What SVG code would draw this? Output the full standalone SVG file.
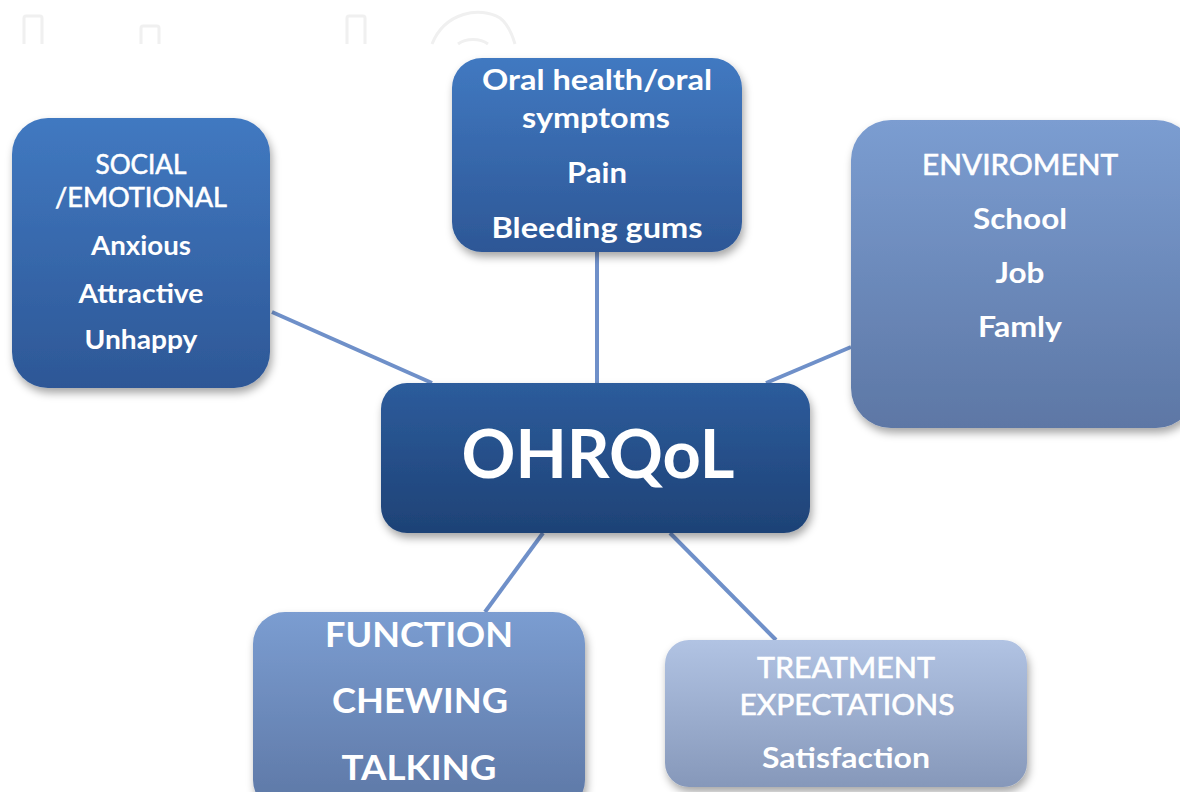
<svg xmlns="http://www.w3.org/2000/svg" width="1180" height="792" viewBox="0 0 1180 792">
<defs>
<linearGradient id="gDark" x1="0" y1="0" x2="0" y2="1"><stop offset="0" stop-color="#4179c1"/><stop offset="1" stop-color="#2d5796"/></linearGradient>
<linearGradient id="gMid" x1="0" y1="0" x2="0" y2="1"><stop offset="0" stop-color="#7b9dd1"/><stop offset="1" stop-color="#5d77a5"/></linearGradient>
<linearGradient id="gCore" x1="0" y1="0" x2="0" y2="1"><stop offset="0" stop-color="#2d5c9c"/><stop offset="1" stop-color="#1e4276"/></linearGradient>
<linearGradient id="gLight" x1="0" y1="0" x2="0" y2="1"><stop offset="0" stop-color="#b1c3e3"/><stop offset="1" stop-color="#8698ba"/></linearGradient>
<filter id="sh" x="-10%" y="-10%" width="125%" height="130%"><feDropShadow dx="2" dy="5" stdDeviation="4" flood-color="#000" flood-opacity="0.35"/></filter>
</defs>
<style>
text{font-family:Lato,"Open Sans","Liberation Sans",sans-serif;fill:#fff;text-anchor:middle}
.b{font-weight:700}
.r{font-weight:400;stroke:#fff;stroke-width:0.6}
.wm{fill:none;stroke:#f0f0f0;stroke-width:3}
.c{stroke:#6f90c9;stroke-width:4;fill:none}
</style>
<rect width="1180" height="792" fill="#fff"/>
<g id="watermark">
<path class="wm" d="M24 44V18a2 2 0 0 1 2-2h14a2 2 0 0 1 2 2v26"/>
<path class="wm" d="M141 44V28a2 2 0 0 1 2-2h14a2 2 0 0 1 2 2v16"/>
<path class="wm" d="M347 44V18a2 2 0 0 1 2-2h14a2 2 0 0 1 2 2v26"/>
<path class="wm" d="M432 44C445 12 480 6 500 18C508 24 512 34 515 44"/>
<path class="wm" d="M458 44C466 38 480 38 488 44"/>
</g>
<g id="connectors">
<line class="c" x1="272" y1="312" x2="432" y2="383"/>
<line class="c" x1="597" y1="252" x2="597" y2="383"/>
<line class="c" x1="851" y1="347" x2="766" y2="383"/>
<line class="c" x1="485" y1="612" x2="543" y2="533"/>
<line class="c" x1="670" y1="533" x2="776" y2="640"/>
</g>
<g id="social">
<rect x="12" y="118" width="258" height="270" rx="36" fill="url(#gDark)" filter="url(#sh)"/>
<text class="r" x="141" y="174" font-size="27" textLength="91" lengthAdjust="spacingAndGlyphs">SOCIAL</text>
<text class="r" x="141" y="207" font-size="27" textLength="172" lengthAdjust="spacingAndGlyphs">/EMOTIONAL</text>
<text class="b" x="141" y="255" font-size="27" textLength="100" lengthAdjust="spacingAndGlyphs">Anxious</text>
<text class="b" x="141" y="303" font-size="27" textLength="125" lengthAdjust="spacingAndGlyphs">Attractive</text>
<text class="b" x="141" y="349" font-size="27" textLength="113" lengthAdjust="spacingAndGlyphs">Unhappy</text>
</g>
<g id="oral">
<rect x="452" y="58" width="290" height="194" rx="30" fill="url(#gDark)" filter="url(#sh)"/>
<text class="b" x="597" y="90" font-size="29" textLength="230" lengthAdjust="spacingAndGlyphs">Oral health/oral</text>
<text class="b" x="596" y="128" font-size="29" textLength="148" lengthAdjust="spacingAndGlyphs">symptoms</text>
<text class="b" x="597" y="183" font-size="29" textLength="60" lengthAdjust="spacingAndGlyphs">Pain</text>
<text class="b" x="597" y="238" font-size="29" textLength="211" lengthAdjust="spacingAndGlyphs">Bleeding gums</text>
</g>
<g id="environment">
<rect x="851" y="120" width="345" height="308" rx="40" fill="url(#gMid)" filter="url(#sh)"/>
<text class="r" x="1020" y="175" font-size="28" textLength="196" lengthAdjust="spacingAndGlyphs">ENVIROMENT</text>
<text class="b" x="1020" y="229" font-size="28" textLength="94" lengthAdjust="spacingAndGlyphs">School</text>
<text class="b" x="1020" y="283" font-size="28" textLength="49" lengthAdjust="spacingAndGlyphs">Job</text>
<text class="b" x="1020" y="337" font-size="28" textLength="84" lengthAdjust="spacingAndGlyphs">Famly</text>
</g>
<g id="ohrqol">
<rect x="381" y="383" width="429" height="150" rx="26" fill="url(#gCore)" filter="url(#sh)"/>
<text class="b" x="598" y="478" font-size="67" textLength="273" lengthAdjust="spacingAndGlyphs">OHRQoL</text>
</g>
<g id="function">
<rect x="253" y="612" width="332" height="200" rx="32" fill="url(#gMid)" filter="url(#sh)"/>
<text class="b" x="419" y="647" font-size="35" textLength="188" lengthAdjust="spacingAndGlyphs">FUNCTION</text>
<text class="b" x="420" y="713" font-size="35" textLength="176" lengthAdjust="spacingAndGlyphs">CHEWING</text>
<text class="b" x="419" y="780" font-size="35" textLength="155" lengthAdjust="spacingAndGlyphs">TALKING</text>
</g>
<g id="treatment">
<rect x="665" y="640" width="362" height="147" rx="24" fill="url(#gLight)" filter="url(#sh)"/>
<text class="r" x="846" y="678" font-size="29" textLength="178" lengthAdjust="spacingAndGlyphs">TREATMENT</text>
<text class="r" x="847" y="715" font-size="29" textLength="215" lengthAdjust="spacingAndGlyphs">EXPECTATIONS</text>
<text class="b" x="846" y="768" font-size="29" textLength="168" lengthAdjust="spacingAndGlyphs">Satisfaction</text>
</g>
</svg>
